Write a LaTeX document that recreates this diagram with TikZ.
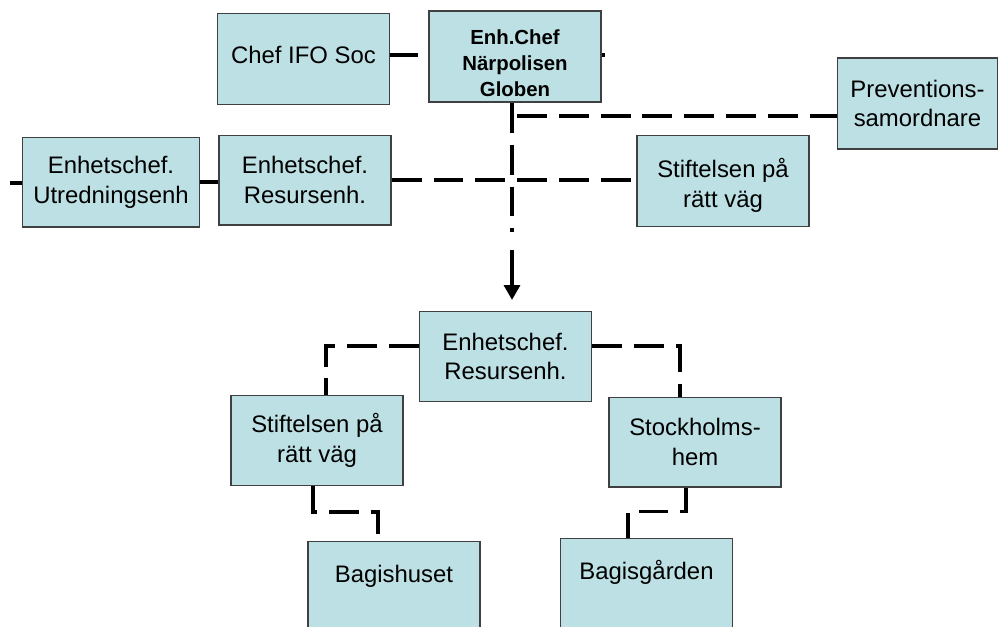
\documentclass[tikz,border=0pt]{standalone}
\usepackage{fontspec}
\setmainfont{Liberation Sans}
\usetikzlibrary{arrows.meta}

\definecolor{boxblue}{RGB}{189,224,228}

\begin{document}
\begin{tikzpicture}[
            x=0.02cm, y=-0.02cm,
            mybox/.style={
            rectangle,
            draw=black!75,
            fill=boxblue,
            line width=0.8pt,
            align=center,
            inner sep=2pt,
            minimum width=98pt,
            minimum height=52pt,
            font=\fontsize{13.6}{17}\selectfont},
        myboldbox/.style={mybox, font=\fontsize{11.6}{15}\selectfont\bfseries},
        mycutbox/.style={mybox, anchor=north, inner ysep=0pt, text height=23pt, text depth=68pt},
        myline/.style={line width=2.1pt},
        mydash/.style={myline, dash pattern=on 17pt off 6.8pt},
        myarrow/.style={myline, -{Triangle[width=9pt,length=8.5pt]}}
        ]
        \clip (0,0) rectangle (1000,626);

        \node[mybox] (chef) at (303.5,59) {\rule[-4.6pt]{0pt}{4.6pt}Chef IFO Soc};
        \node[myboldbox] (enh) at (515,56.5) {\rule{0pt}{16pt}Enh.Chef\\Närpolisen\\Globen};
        \node[mybox,minimum width=91pt] (prev) at (917.5,103.5) {Preventions-\\samordnare};
        \node[mybox,minimum width=101pt,minimum height=51pt] (utr) at (111,182) {Enhetschef.\\Utredningsenh};
        \node[mybox,minimum height=51pt] (res) at (305,180) {Enhetschef.\\Resursenh.};
        \node[mybox] (stif) at (723,181) {\rule{0pt}{15.6pt}Stiftelsen på\\rätt väg};
        \node[mybox,minimum height=51pt] (res2) at (505.5,356.5) {Enhetschef.\\Resursenh.};
        \node[mybox,minimum height=51pt] (stif2) at (317,440.5) {Stiftelsen på\\rätt väg};
        \node[mybox,minimum height=51pt] (stock) at (695,442) {Stockholms-\\hem};
        \node[mycutbox] (bagh) at (394,541) {Bagishuset};
        \node[mycutbox] (bagg) at (646.5,538) {Bagisgården};

        \coordinate (ustart) at (10,183);
        \coordinate (enhend) at (605,55);
        \coordinate (pstart) at (517,116);
        \coordinate (vgap) at (512,232);
        \coordinate (vstart) at (512,250);
        \coordinate (vtip) at (512,300);

        \foreach \i/\j/\s in {% start node/end node/style
            utr/res/myline,
            res/stif/mydash}
            \draw[\s] (\i.east) -- (\i.east -| \j.west);

        \draw[myline] (ustart) -- (ustart -| utr.west);
        \draw[myline,shorten >=5.6pt] ([yshift=2.3pt]chef.east) -- ([yshift=2.3pt]chef.east -| enh.west);
        \draw[myline] (enhend -| enh.east) -- (enhend);
        \draw[mydash] (enh.south -| vgap) -- (vgap);
        \draw[mydash] (pstart) -- (pstart -| prev.west);
        \draw[myarrow] (vstart) -- (vtip);

        % lower part
        \draw[mydash] ([yshift=6pt]res2.west) -| ([xshift=5pt]stif2.north);
        \draw[mydash] ([yshift=6pt]res2.east) -| ([xshift=-8.5pt]stock.north);
        \draw[mydash] ([xshift=-2.3pt]stif2.south) -- ++(0,26) -| ([xshift=-9pt]bagh.north);
        \draw[mydash] ([xshift=-5pt]stock.south) -- ++(0,24) -| ([xshift=-10.5pt]bagg.north);
\end{tikzpicture}
\end{document}
